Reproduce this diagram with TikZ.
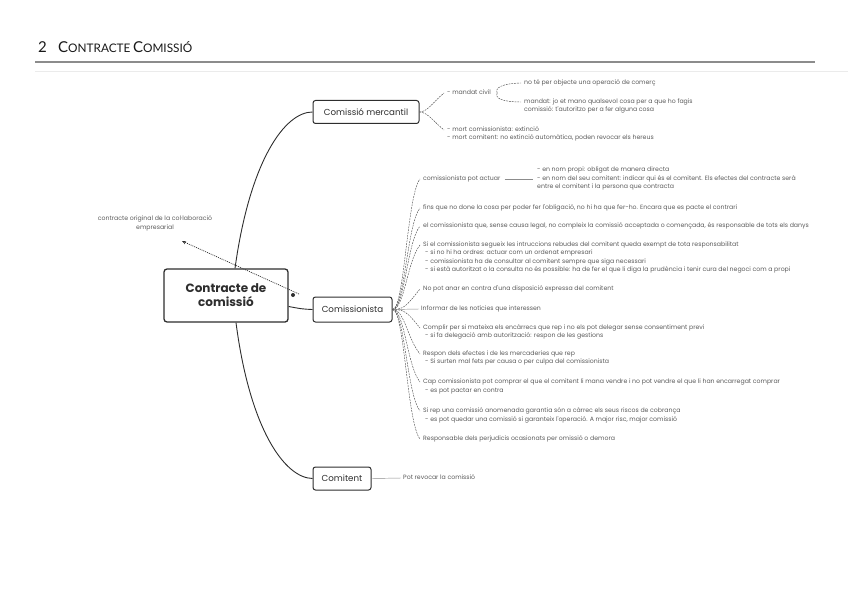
\documentclass[tikz,border=0pt]{standalone}
\usepackage{fontspec}
\setmainfont{Lato}
\newfontfamily\popfont{Poppins}
\usetikzlibrary{arrows.meta}
\definecolor{ink}{HTML}{2E2E2E}
\definecolor{txt}{HTML}{5A5A5A}
\begin{document}
\begin{tikzpicture}[x=1pt,y=-1pt,
  leaf/.style={anchor=west, inner sep=0pt, text height=4.6pt, text depth=1.4pt, font=\popfont\fontsize{6.2}{7}\selectfont, text=txt},
  mainbox/.style={draw=ink, line width=1.3pt, rounded corners=3pt, fill=white, align=center, text=ink,
     font=\popfont\bfseries\fontsize{12}{14}\selectfont, minimum width=124pt, minimum height=53pt, inner sep=0pt},
  subbox/.style={draw=ink, line width=1pt, rounded corners=2.5pt, fill=white, text=ink, inner sep=0pt,
     font=\popfont\fontsize{8.7}{10}\selectfont, minimum height=23pt},
  trunk/.style={draw=ink, line width=0.9pt},
  twig/.style={draw=ink!85, line width=0.45pt, dash pattern=on 1.8pt off 1pt},
  plainln/.style={draw=black!45, line width=0.45pt},
  hd/.style={anchor=base west, inner sep=0pt, text=black!90}
]
\useasboundingbox (0,0) rectangle (848,599);

% header
\node[hd] (hnum) at (38,53) {\fontsize{15}{15}\selectfont 2};
\node[hd] (htitle) at (58,53) {{\fontsize{15}{15}\selectfont C}{\fontsize{11.8}{10}\selectfont ONTRACTE} {\fontsize{15}{15}\selectfont C}{\fontsize{11.8}{10}\selectfont OMISSIÓ}};
\draw[black!45, line width=1.2pt] (35,62) -- (815,62);
\draw[black!8, line width=0.8pt] (35,71) -- (848,71);

% main nodes
\node[mainbox] (cc) at (226,295.5) {Contracte de\\comissió};
\node[subbox, minimum width=106pt] (merc) at (366,112) {Comissió mercantil};
\node[subbox, minimum width=79pt, minimum height=25pt] (cms) at (352.5,309.5) {Comissionista};
\node[subbox, minimum width=58pt] (comt) at (342,478.5) {Comitent};

\draw[trunk] ([xshift=9pt]cc.north) .. controls (250,160) and (285,112) .. (merc.west);
\draw[trunk] ([xshift=10pt]cc.south) .. controls (250,430) and (285,478) .. (comt.west);
\draw[trunk] ([yshift=-11pt]cc.east) .. controls (302,309) .. (cms.west);

% floating note
\node[inner sep=0pt, align=center, font=\popfont\fontsize{6.2}{9}\selectfont, text=txt] (note) at (155,223.5) {contracte original de la col·laboració\\empresarial};
\node[circle, fill=ink, inner sep=0pt, minimum size=4pt] (dot) at (293,295) {};
\coordinate (tip) at (182,241);
\draw[ink, line width=0.7pt, dash pattern=on 1pt off 1pt, -{Stealth[length=4pt,width=3.5pt]}] ([xshift=6pt,yshift=1pt]dot.center) -- (tip);

% Comissio mercantil branch
\node[leaf] (mc) at (447,93) {- mandat civil};
\node[leaf] (mc1) at (524,83) {no té per objecte una operació de comerç};
\node[leaf] (mc2) at (524,102) {mandat: jo et mano qualsevol cosa per a que ho fagis};
\node[leaf] (mc2a) at (524,110) {comissió: t'autoritzo per a fer alguna cosa};
\node[leaf] (mm1) at (447,130) {- mort comissionista: extinció};
\node[leaf] (mm2) at (447,138) {- mort comitent: no extinció automàtica, poden revocar els hereus};
\draw[twig] (merc.east) .. controls +(8,0) and +(-10,8) .. ([xshift=-3pt]mc.west);
\draw[twig] (merc.east) .. controls +(8,0) and +(-10,-8) .. ([xshift=-3pt]mm1.west);
\draw[twig] ([xshift=6pt]mc.east) .. controls +(-4,-8) and +(-8,0) .. ([xshift=-3pt]mc1.west);
\draw[twig] ([xshift=6pt]mc.east) .. controls +(-4,8) and +(-8,0) .. ([xshift=-3pt]mc2.west);

% Comissionista branch
\node[leaf] (b1) at (423,179) {comissionista pot actuar};
\node[leaf] (b1a) at (537,170) {- en nom propi: obligat de manera directa};
\node[leaf] (b1b) at (537,179) {- en nom del seu comitent: indicar qui és el comitent. Els efectes del contracte serà};
\node[leaf] (b1c) at (537,187) {entre el comitent i la persona que contracta};
\node[leaf] (b2) at (423,208) {fins que no done la cosa per poder fer l'obligació, no hi ha que fer-ho. Encara que es pacte el contrari};
\node[leaf] (b3) at (423,226) {el comissionista que, sense causa legal, no compleix la comissió acceptada o començada, és responsable de tots els danys};
\node[leaf] (b4) at (423,245) {Si el comissionista segueix les intruccions rebudes del comitent queda exempt de tota responsabilitat};
\node[leaf] (b4a) at (425,253) {- si no hi ha ordres: actuar com un ordenat empresari};
\node[leaf] (b4b) at (425,262) {- comissionista ha de consultar al comitent sempre que siga necessari};
\node[leaf] (b4c) at (425,270) {- si està autoritzat o la consulta no és possible: ha de fer el que li diga la prudència i tenir cura del negoci com a propi};
\node[leaf] (b5) at (423,289) {No pot anar en contra d'una disposició expressa del comitent};
\node[leaf] (b6) at (421,309) {Informar de les notícies que interessen};
\node[leaf] (b7) at (423,328) {Complir per si mateixa els encàrrecs que rep i no els pot delegar sense consentiment previ};
\node[leaf] (b7a) at (425,336) {- si fa delegació amb autorització: respon de les gestions};
\node[leaf] (b8) at (423,354) {Respon dels efectes i de les mercaderies que rep};
\node[leaf] (b8a) at (425,362) {- Si surten mal fets per causa o per culpa del comissionista};
\node[leaf] (b9) at (423,382) {Cap comissionista pot comprar el que el comitent li mana vendre i no pot vendre el que li han encarregat comprar};
\node[leaf] (b9a) at (425,391) {- es pot pactar en contra};
\node[leaf] (b10) at (423,411) {Si rep una comissió anomenada garantia són a càrrec els seus riscos de cobrança};
\node[leaf] (b10a) at (425,420) {- es pot quedar una comissió si garanteix l'operació. A major risc, major comissió};
\node[leaf] (b11) at (423,439) {Responsable dels perjudicis ocasionats per omissió o demora};

\foreach \n in {b1,b2,b3,b4,b5}
  \draw[twig] (cms.east) .. controls +(12,0) and +(-13,16) .. ([xshift=-3pt]\n.west);
\foreach \n in {b7,b8,b9,b10,b11}
  \draw[twig] (cms.east) .. controls +(12,0) and +(-13,-16) .. ([xshift=-3pt]\n.west);
\draw[plainln] (cms.east) -- ([xshift=-2pt]b6.west);
\draw[plainln] ([xshift=4pt]b1.east) -- ([xshift=-4pt]b1b.west);

% Comitent branch
\node[leaf] (ct1) at (403,478) {Pot revocar la comissió};
\draw[plainln] (comt.east) -- ([xshift=-2pt]ct1.west);
\end{tikzpicture}
\end{document}
